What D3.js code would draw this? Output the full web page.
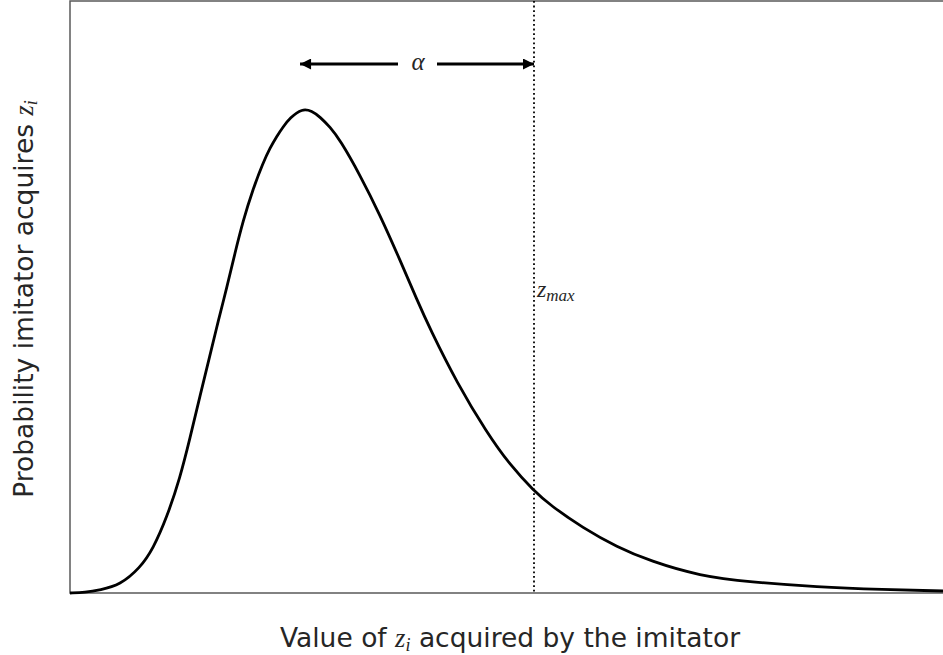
<!DOCTYPE html>
<html>
<head>
<meta charset="utf-8">
<script src="https://cdn.jsdelivr.net/npm/d3@7"></script>
<style>
  body { margin: 0; background: #fff; }
  svg { display: block; }
</style>
</head>
<body>
<svg id="chart" width="943" height="655"></svg>
<script>
// Curve samples (x in arbitrary units, y relative to peak)
const curveX = [0, 1.72, 3.44, 5.73, 8.02, 9.51, 11.11, 12.60, 13.75, 14.89, 16.04, 16.95, 17.98, 18.90, 19.82, 20.96, 22.11, 22.91, 23.71, 24.40, 25.20, 26.58, 27.72, 28.64, 29.78, 30.93, 33.22, 35.51, 37.80, 39.75, 41.24, 44.33, 47.77, 50.40, 53.15, 54.98, 58.76, 62.66, 66.44, 72.16, 77.89, 85.57, 93.13, 100];
const curveY = [0, 0.001, 0.0062, 0.0165, 0.0517, 0.0909, 0.1570, 0.2376, 0.3202, 0.4070, 0.4917, 0.5599, 0.6322, 0.7025, 0.7686, 0.8347, 0.8884, 0.9194, 0.9442, 0.9628, 0.9814, 1.0010, 0.9958, 0.9835, 0.9628, 0.9360, 0.8636, 0.7810, 0.6880, 0.6054, 0.5455, 0.4339, 0.3306, 0.2645, 0.2107, 0.1818, 0.1343, 0.0950, 0.0661, 0.0351, 0.0227, 0.0124, 0.0072, 0.0041];
const peakX = 26.58;    // left end of alpha arrow
const zMax = 53.15;     // dotted vertical line
const xDomain = [0, 100];
const yDomain = [0, 1.223];

const svg = d3.select("#chart");
const W = 943, H = 655;
const m = { left: 70, right: 0, top: 1, bottom: 62 };
const x = d3.scaleLinear().domain(xDomain).range([m.left, W - m.right]);
const y = d3.scaleLinear().domain(yDomain).range([H - m.bottom, m.top]);

const textColor = "#262626";
const mathFont = "Liberation Serif, DejaVu Serif, serif";

// frame
svg.append("rect")
  .attr("x", x(xDomain[0])).attr("y", y(yDomain[1]))
  .attr("width", x(xDomain[1]) - x(xDomain[0]) + 5)
  .attr("height", y(yDomain[0]) - y(yDomain[1]))
  .attr("fill", "none").attr("stroke", "#595959").attr("stroke-width", 1.5);

// curve
const pts = curveX.map((d, i) => [d, curveY[i]]);
svg.append("path")
  .datum(pts)
  .attr("fill", "none").attr("stroke", "#000").attr("stroke-width", 2.8)
  .attr("stroke-linejoin", "round")
  .attr("d", d3.line().x(d => x(d[0])).y(d => y(d[1])).curve(d3.curveBasis));

// dotted vertical line
svg.append("line")
  .attr("x1", x(zMax)).attr("x2", x(zMax))
  .attr("y1", y(yDomain[1])).attr("y2", y(0))
  .attr("stroke", "#000").attr("stroke-width", 1.8)
  .attr("stroke-dasharray", "1.8,2.8");

// z_max label
const zl = svg.append("text")
  .attr("x", x(zMax) + 3).attr("y", 297)
  .attr("font-family", mathFont)
  .attr("font-style", "italic").attr("fill", textColor)
  .attr("font-size", 24);
zl.append("tspan").text("z");
zl.append("tspan").attr("font-size", 17).attr("dy", 4).text("max");

// alpha arrow
const defs = svg.append("defs");
defs.append("marker").attr("id", "ah").attr("viewBox", "0 0 10 10")
  .attr("refX", 10).attr("refY", 5)
  .attr("markerWidth", 14).attr("markerHeight", 11).attr("markerUnits", "userSpaceOnUse")
  .attr("orient", "auto-start-reverse")
  .append("path").attr("d", "M0,0 L10,5 L0,10 Z").attr("fill", "#000");

const arrowY = 64;
const alphaX = 418;
svg.append("line")
  .attr("x1", x(peakX) - 2).attr("x2", alphaX - 20)
  .attr("y1", arrowY).attr("y2", arrowY)
  .attr("stroke", "#000").attr("stroke-width", 2.8)
  .attr("marker-start", "url(#ah)");
svg.append("line")
  .attr("x1", alphaX + 19).attr("x2", x(zMax))
  .attr("y1", arrowY).attr("y2", arrowY)
  .attr("stroke", "#000").attr("stroke-width", 2.8)
  .attr("marker-end", "url(#ah)");
svg.append("text")
  .attr("x", alphaX).attr("y", arrowY + 6)
  .attr("text-anchor", "middle")
  .attr("font-family", mathFont)
  .attr("font-style", "italic").attr("font-size", 25).attr("fill", textColor)
  .text("α");

// x label
const xl = svg.append("text")
  .attr("x", 510).attr("y", 647)
  .attr("text-anchor", "middle")
  .attr("font-family", "DejaVu Sans, sans-serif")
  .attr("font-size", 26.5).attr("fill", textColor);
xl.append("tspan").text("Value of ");
xl.append("tspan").attr("font-family", mathFont).attr("font-style", "italic").text("z");
xl.append("tspan").attr("font-family", mathFont).attr("font-style", "italic").attr("font-size", 18).attr("dy", 4).text("i");
xl.append("tspan").attr("dy", -4).text(" acquired by the imitator");

// y label
const yl = svg.append("text")
  .attr("transform", "translate(33,299) rotate(-90)")
  .attr("text-anchor", "middle")
  .attr("font-family", "DejaVu Sans, sans-serif")
  .attr("font-size", 26.5).attr("fill", textColor);
yl.append("tspan").text("Probability imitator acquires ");
yl.append("tspan").attr("font-family", mathFont).attr("font-style", "italic").text("z");
yl.append("tspan").attr("font-family", mathFont).attr("font-style", "italic").attr("font-size", 18).attr("dy", 4).text("i");
</script>
</body>
</html>
